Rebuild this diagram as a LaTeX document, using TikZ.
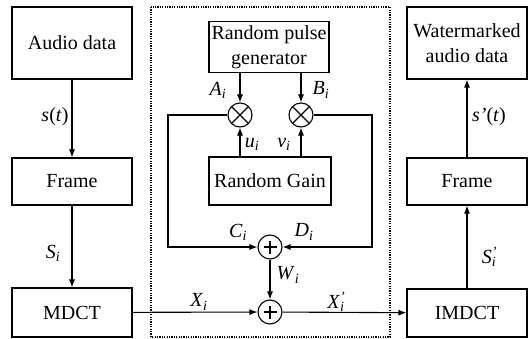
\documentclass[tikz,border=0pt]{standalone}
\usepackage{fontspec}
\setmainfont{Liberation Serif}
\usetikzlibrary{arrows.meta}
\newcommand{\isub}[1]{\textit{#1}\textsubscript{\textit{i}}}
\newcommand{\ipsub}[1]{\textit{#1}\rlap{\textsuperscript{\textit{'}}}\textsubscript{\textit{i}}}
\tikzset{
  txt/.style={font=\rmfamily\fontsize{20}{24.5}\selectfont},
  blk/.style={txt, draw, line width=1.1pt, rectangle, align=center, inner sep=0pt},
  op/.style={draw, line width=1.1pt, circle, minimum size=24pt, inner sep=0pt},
  mul/.style={op, path picture={
      \draw[line width=1.1pt] (path picture bounding box.south west) -- (path picture bounding box.north east)
        (path picture bounding box.north west) -- (path picture bounding box.south east);}},
  add/.style={op, path picture={
      \draw[line width=1.1pt] ([xshift=-6.5pt]path picture bounding box.center) -- ([xshift=6.5pt]path picture bounding box.center)
        ([yshift=-6.5pt]path picture bounding box.center) -- ([yshift=6.5pt]path picture bounding box.center);}},
  wire/.style={line width=1.1pt},
  arr/.style={wire, -{Latex[length=8pt,width=6pt]}},
  lbl/.style={txt, inner sep=0pt},
}
\begin{document}
\begin{tikzpicture}[x=1pt,y=-1pt]
\useasboundingbox (0,0) rectangle (530,339);
% dotted frame around the embedding block
\draw[line width=1.1pt, dash pattern=on 1.2pt off 1.2pt] (151,7) rectangle (390,337);

% left column
\node[blk, minimum width=120pt, minimum height=72pt] (audio) at (72,43) {Audio data};
\node[blk, minimum width=120pt, minimum height=47pt] (frameL) at (72,181.5) {Frame};
\node[blk, minimum width=120pt, minimum height=49pt] (mdct) at (72,312.5) {MDCT};

% middle block
\node[blk, minimum width=120pt, minimum height=51pt] (rpg) at (269,47) {Random pulse\\generator};
\node[mul] (mulA) at (240,115) {};
\node[mul] (mulB) at (301,115) {};
\node[blk, minimum width=122pt, minimum height=48pt] (gain) at (270,181) {Random Gain};
\node[add] (addC) at (270,247) {};
\node[add] (addX) at (270,312) {};
\coordinate (cl1) at (168,115);
\coordinate (cl2) at (168,247);
\coordinate (cr1) at (372,115);
\coordinate (cr2) at (372,247);

% right column
\node[blk, minimum width=120pt, minimum height=48pt] (imdct) at (467,313) {IMDCT};
\node[blk, minimum width=120pt, minimum height=47pt] (frameR) at (467,181.5) {Frame};
\node[blk, minimum width=120pt, minimum height=72pt] (wm) at (467,43) {Watermarked\\audio data};

% connectors
\draw[arr] (audio) -- (frameL);
\draw[arr] (frameL) -- (mdct);
\draw[arr] (mulA |- rpg.south) -- (mulA);
\draw[arr] (mulB |- rpg.south) -- (mulB);
\draw[arr] (mulA |- gain.north) -- (mulA);
\draw[arr] (mulB |- gain.north) -- (mulB);
\draw[arr] (mulA.west) -- (cl1) -- (cl2) -- (addC);
\draw[arr] (mulB.east) -- (cr1) -- (cr2) -- (addC);
\draw[arr] (addC) -- (addX);
\draw[arr] (mdct) -- (addX);
\draw[arr] (addX) -- (imdct);
\draw[arr] (imdct) -- (frameR);
\draw[arr] (frameR) -- (wm);

% labels
\node[lbl] (l1) at (55,117) {\textit{s}(\textit{t})};
\node[lbl] (l2) at (53,253) {\isub{S}};
\node[lbl] (l3) at (218,90) {\isub{A}};
\node[lbl] (l4) at (321,90) {\isub{B}};
\node[lbl] (l5) at (252,144) {\isub{u}};
\node[lbl] (l6) at (284,144) {\isub{v}};
\node[lbl] (l7) at (238,232) {\isub{C}};
\node[lbl] (l8) at (304,232) {\isub{D}};
\node[lbl] (l9) at (288,275) {\isub{W}};
\node[lbl] (l10) at (199,302) {\isub{X}};
\node[lbl] (l11) at (336,302) {\ipsub{X}};
\node[lbl] (l12) at (489,117) {\textit{s'}(\textit{t})};
\node[lbl] (l13) at (489,257) {\ipsub{S}};
\end{tikzpicture}
\end{document}
